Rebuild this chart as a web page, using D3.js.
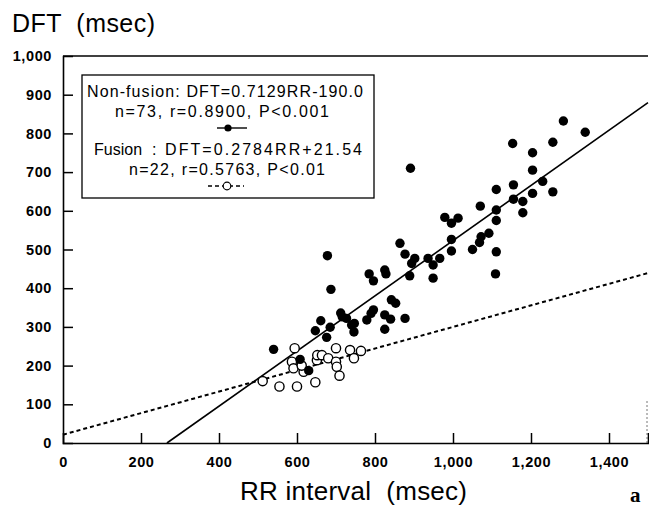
<!DOCTYPE html>
<html>
<head>
<meta charset="utf-8">
<script src="https://cdn.jsdelivr.net/npm/d3@7"></script>
<style>
  body { margin: 0; background: #fff; }
  svg { display: block; font-family: "Liberation Sans", Arial, Helvetica, sans-serif; }
</style>
</head>
<body>
<svg width="649" height="508"></svg>
<script>
// non-fusion (filled) and fusion (open) points, RR interval vs DFT, msec
const nonFusionRR  = [540, 608, 630, 647, 661, 676, 685, 712, 716, 727, 740, 747, 746, 779, 790, 796, 825, 840, 877, 825, 842, 853,
                      678, 687, 785, 796, 825, 828, 864, 877, 894, 902, 889, 891, 936, 949, 966, 949, 996, 996, 1050, 1068,
                      1072, 1092, 1070, 979, 996, 1013, 1111, 1109, 1111, 1111, 1111, 1155, 1155, 1179, 1179, 1153, 1204,
                      1204, 1230, 1204, 1256, 1256, 1283, 1339];
const nonFusionDFT = [242, 216, 187, 290, 316, 273, 299, 336, 326, 322, 305, 309, 287, 318, 335, 344, 331, 320, 322, 294, 370, 361,
                      484, 397, 437, 419, 447, 437, 516, 488, 464, 477, 432, 710, 477, 460, 477, 426, 526, 496, 500, 518,
                      533, 542, 612, 583, 568, 581, 494, 437, 575, 602, 655, 667, 630, 624, 595, 774, 750,
                      705, 676, 645, 649, 777, 832, 803];
const fusionRR  = [512, 555, 600, 647, 594, 587, 591, 617, 612, 651, 652, 664, 680, 700, 700, 702, 709, 736, 746, 764];
const fusionDFT = [160, 146, 146, 157, 245, 210, 193, 184, 200, 214, 227, 227, 219, 245, 210, 197, 174, 240, 219, 238];

// regression lines
const fitNonFusion = [0.7129, -190.0];
const fitFusion = [0.2784, 21.54];

const xTicks = [0, 200, 400, 600, 800, 1000, 1200, 1400];
const yTicks = [0, 100, 200, 300, 400, 500, 600, 700, 800, 900, 1000];

const legendLines = ["Non-fusion: DFT=0.7129RR-190.0", "n=73, r=0.8900, P<0.001",
                     "Fusion", ": DFT=0.2784RR+21.54", "n=22, r=0.5763, P<0.01"];

const svg = d3.select("svg");
const x = d3.scaleLinear().domain([0, 1500]).range([63, 648]);
const y = d3.scaleLinear().domain([0, 1000]).range([443, 56]);

// frame: top line and faint right edge
svg.append("line").attr("x1", x(0)).attr("x2", x(1500)).attr("y1", y(1000)).attr("y2", y(1000))
  .attr("stroke", "#000").attr("stroke-width", 1.4);
svg.append("line").attr("x1", x(1500) - 1).attr("x2", x(1500) - 1).attr("y1", y(0)).attr("y2", y(110))
  .attr("stroke", "#777").attr("stroke-width", 1).attr("stroke-dasharray", "2,2");

const xAxis = svg.append("g").attr("transform", `translate(0,${y(0)})`)
  .call(d3.axisBottom(x).tickValues(xTicks).tickSize(-10).tickPadding(14).tickFormat(d3.format(",")));
const yAxis = svg.append("g").attr("transform", `translate(${x(0)},0)`)
  .call(d3.axisLeft(y).tickValues(yTicks).tickSize(-10).tickPadding(11).tickFormat(d3.format(",")));

[xAxis, yAxis].forEach(g => {
  g.select(".domain").attr("stroke", "#000").attr("stroke-width", 1.6);
  g.selectAll(".tick line").attr("stroke", "#000").attr("stroke-width", 1.5);
  g.selectAll(".tick text").attr("fill", "#000").attr("font-size", 14.5).attr("font-weight", "bold")
    .attr("letter-spacing", 0.6).attr("font-family", "Liberation Sans, Arial, sans-serif");
});
xAxis.selectAll(".tick").filter(d => d === 0).select("line").remove();
yAxis.selectAll(".tick").filter(d => d === 0 || d === 1000).select("line").remove();

// regression lines
const line = d3.line().x(d => x(d[0])).y(d => y(d[1]));
const nfStart = -fitNonFusion[1] / fitNonFusion[0];
svg.append("path")
  .attr("d", line([[nfStart, 0], [1500, fitNonFusion[0] * 1500 + fitNonFusion[1]]]))
  .attr("fill", "none").attr("stroke", "#000").attr("stroke-width", 1.6);
svg.append("path")
  .attr("d", line([[0, fitFusion[1]], [1500, fitFusion[0] * 1500 + fitFusion[1]]]))
  .attr("fill", "none").attr("stroke", "#000").attr("stroke-width", 2).attr("stroke-dasharray", "4,3");

// points
svg.append("g").selectAll("circle").data(d3.zip(fusionRR, fusionDFT)).join("circle")
  .attr("cx", d => x(d[0])).attr("cy", d => y(d[1])).attr("r", 4.6)
  .attr("fill", "#fff").attr("stroke", "#000").attr("stroke-width", 1.4);
svg.append("g").selectAll("circle").data(d3.zip(nonFusionRR, nonFusionDFT)).join("circle")
  .attr("cx", d => x(d[0])).attr("cy", d => y(d[1])).attr("r", 4.7).attr("fill", "#000");

// legend
const lg = svg.append("g");
lg.append("rect").attr("x", 82).attr("y", 75).attr("width", 292).attr("height", 123)
  .attr("fill", "#fff").attr("stroke", "#000").attr("stroke-width", 1.3);
const legendPos = [[87, 97, 276], [115, 117, 214], [94, 155, null], [152, 155, 210], [129, 175, 196]];
lg.selectAll("text").data(legendLines).join("text")
  .attr("x", (d, i) => legendPos[i][0]).attr("y", (d, i) => legendPos[i][1])
  .attr("textLength", (d, i) => legendPos[i][2]).attr("lengthAdjust", "spacing")
  .attr("font-size", 16).attr("fill", "#000").text(d => d);
lg.append("line").attr("x1", 217).attr("x2", 247).attr("y1", 128).attr("y2", 128)
  .attr("stroke", "#000").attr("stroke-width", 1.4);
lg.append("circle").attr("cx", 228).attr("cy", 128).attr("r", 3.6).attr("fill", "#000");
lg.append("line").attr("x1", 208).attr("x2", 244).attr("y1", 186).attr("y2", 186)
  .attr("stroke", "#000").attr("stroke-width", 1.4).attr("stroke-dasharray", "4,3");
lg.append("circle").attr("cx", 227).attr("cy", 186).attr("r", 3.8)
  .attr("fill", "#fff").attr("stroke", "#000").attr("stroke-width", 1.2);

// axis titles
svg.append("text").attr("x", 12).attr("y", 32).attr("font-size", 25)
  .attr("textLength", 143).attr("lengthAdjust", "spacing").text("DFT  (msec)").style("white-space", "pre");
svg.append("text").attr("x", 240).attr("y", 500).attr("font-size", 26)
  .attr("textLength", 227).attr("lengthAdjust", "spacing").text("RR interval  (msec)").style("white-space", "pre");
svg.append("text").attr("x", 630).attr("y", 502).attr("font-size", 21).attr("font-weight", "bold")
  .attr("font-family", "Liberation Serif, Times New Roman, serif").text("a");
</script>
</body>
</html>
